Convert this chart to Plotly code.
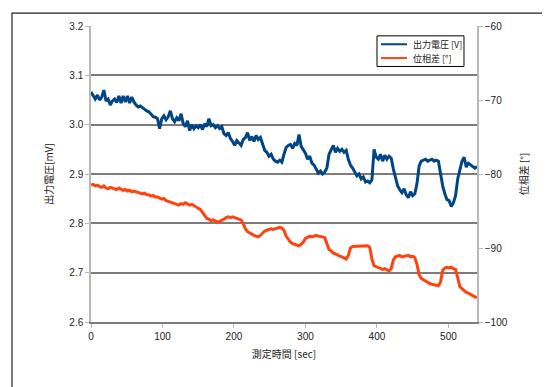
import plotly.graph_objects as go

# ---- data ----
time_sec = [
    0, 3, 6, 9, 12, 15, 18, 21, 24, 27,
    30, 33, 36, 39, 42, 45, 48, 51, 54, 57,
    60, 63, 66, 69, 72, 75, 78, 81, 84, 87,
    90, 93, 96, 99, 102, 105, 108, 111, 114, 117,
    120, 123, 126, 129, 132, 135, 138, 141, 144, 147,
    150, 153, 156, 159, 162, 165, 168, 171, 174, 177,
    180, 183, 186, 189, 192, 195, 198, 201, 204, 207,
    210, 213, 216, 219, 222, 225, 228, 231, 234, 237,
    240, 243, 246, 249, 252, 255, 258, 261, 264, 267,
    270, 273, 276, 279, 282, 285, 288, 291, 294, 297,
    300, 303, 306, 309, 312, 315, 318, 321, 324, 327,
    330, 333, 336, 339, 342, 345, 348, 351, 354, 357,
    360, 363, 366, 369, 372, 375, 378, 381, 384, 387,
    390, 393, 396, 399, 402, 405, 408, 411, 414, 417,
    420, 423, 426, 429, 432, 435, 438, 441, 444, 447,
    450, 453, 456, 459, 462, 465, 468, 471, 474, 477,
    480, 483, 486, 489, 492, 495, 498, 501, 504, 507,
    510, 513, 516, 519, 522, 525, 528, 531, 534, 537,
    540,
]

voltage_v = [
    3.066, 3.058, 3.052, 3.060, 3.050, 3.056, 3.070, 3.048, 3.052, 3.040,
    3.048, 3.052, 3.045, 3.058, 3.044, 3.058, 3.046, 3.058, 3.044, 3.056,
    3.046, 3.040, 3.036, 3.038, 3.034, 3.030, 3.028, 3.026, 3.020, 3.016,
    3.015, 3.012, 2.992, 3.012, 3.018, 3.010, 3.016, 3.028, 3.012, 3.006,
    3.014, 3.008, 3.022, 3.002, 2.996, 3.008, 2.988, 3.000, 2.992, 2.998,
    2.994, 3.000, 2.990, 3.002, 2.996, 3.012, 2.998, 3.000, 2.994, 2.998,
    2.992, 2.996, 2.982, 2.978, 2.984, 2.972, 2.966, 2.958, 2.968, 2.962,
    2.958, 2.970, 2.974, 2.984, 2.968, 2.976, 2.966, 2.978, 2.970, 2.974,
    2.962, 2.948, 2.944, 2.936, 2.940, 2.930, 2.926, 2.924, 2.928, 2.924,
    2.940, 2.954, 2.958, 2.960, 2.952, 2.962, 2.958, 2.980, 2.956, 2.950,
    2.942, 2.930, 2.936, 2.922, 2.918, 2.910, 2.902, 2.906, 2.900, 2.904,
    2.912, 2.940, 2.948, 2.958, 2.944, 2.952, 2.946, 2.950, 2.944, 2.948,
    2.930, 2.918, 2.912, 2.904, 2.896, 2.900, 2.890, 2.894, 2.884, 2.886,
    2.882, 2.888, 2.950, 2.934, 2.930, 2.940, 2.926, 2.938, 2.930, 2.936,
    2.932, 2.910, 2.890, 2.876, 2.868, 2.862, 2.870, 2.858, 2.852, 2.864,
    2.856, 2.860, 2.880, 2.916, 2.926, 2.928, 2.930, 2.926, 2.928, 2.930,
    2.926, 2.928, 2.926, 2.900, 2.876, 2.860, 2.848, 2.846, 2.834, 2.842,
    2.856, 2.890, 2.910, 2.926, 2.934, 2.914, 2.922, 2.918, 2.916, 2.912,
    2.915,
]

phase_deg = [
    -81.5, -81.4, -81.6, -81.5, -81.7, -81.8, -81.6, -81.9, -82.0, -81.8,
    -81.9, -82.0, -82.1, -81.9, -82.1, -82.2, -82.1, -82.3, -82.2, -82.4,
    -82.3, -82.4, -82.5, -82.5, -82.7, -82.6, -82.8, -82.8, -83.0, -82.9,
    -83.1, -83.1, -83.3, -83.4, -83.3, -83.6, -83.7, -83.8, -83.9, -84.0,
    -84.0, -84.2, -84.0, -84.1, -83.9, -84.0, -84.2, -84.1, -84.3, -84.4,
    -84.6, -84.8, -85.2, -85.6, -86.0, -86.1, -86.3, -86.2, -86.3, -86.5,
    -86.4, -86.3, -86.1, -85.9, -85.8, -85.9, -85.8, -85.9, -86.0, -86.0,
    -86.2, -86.7, -87.4, -87.8, -88.0, -88.2, -88.3, -88.4, -88.5, -88.3,
    -88.0, -87.7, -87.6, -87.5, -87.4, -87.5, -87.4, -87.3, -87.2, -87.3,
    -87.6, -88.4, -88.8, -89.2, -89.4, -89.5, -89.6, -89.7, -89.5, -89.2,
    -88.7, -88.5, -88.4, -88.5, -88.4, -88.3, -88.4, -88.4, -88.5, -88.6,
    -89.4, -90.2, -90.4, -90.7, -90.8, -91.0, -91.1, -91.2, -91.4, -91.5,
    -91.0, -90.0, -89.8, -89.8, -89.7, -89.8, -89.7, -89.8, -89.8, -89.7,
    -89.9, -91.5, -92.4, -92.5, -92.6, -92.7, -92.9, -92.8, -93.0, -93.1,
    -92.8, -91.6, -91.2, -91.1, -91.0, -91.2, -91.1, -91.1, -91.0, -91.2,
    -91.1, -91.3, -92.2, -93.6, -94.1, -94.3, -94.5, -94.7, -94.8, -94.9,
    -95.0, -95.0, -95.1, -94.6, -93.0, -92.7, -92.6, -92.7, -92.6, -92.8,
    -92.9, -94.0, -95.2, -95.5, -95.8, -96.0, -96.1, -96.3, -96.5, -96.6,
    -96.7,
]

x_ticks = [0, 100, 200, 300, 400, 500]
left_ticks = [2.6, 2.7, 2.8, 2.9, 3.0, 3.1, 3.2]
right_ticks = [-100, -90, -80, -70, -60]

name_voltage = "出力電圧 [V]"
name_phase = "位相差 [°]"
title_x = "測定時間 [sec]"
title_left = "出力電圧[mV]"
title_right = "位相差 [°]"

BLUE = "#004586"
ORANGE = "#ff420e"
GRID = "#7c7c7c"
LIGHT = "#b8b8b8"
FONT = "Liberation Sans, Noto Sans CJK JP, sans-serif"
CJK = "Noto Sans CJK JP, Liberation Sans, sans-serif"

fig = go.Figure()
fig.add_trace(go.Scatter(x=time_sec, y=voltage_v, name=name_voltage, mode="lines",
                         line=dict(color=BLUE, width=3), yaxis="y"))
fig.add_trace(go.Scatter(x=time_sec, y=phase_deg, name=name_phase, mode="lines",
                         line=dict(color=ORANGE, width=3), yaxis="y2"))

# manual legend (paper coordinates)
LEG_Y1 = 0.9383
LEG_Y2 = 0.8917
shapes = [
    dict(type="rect", xref="paper", yref="paper",
         x0=-0.2047, x1=1.25, y0=-0.3, y1=1.0433,
         line=dict(color="#222222", width=1.2), fillcolor="rgba(0,0,0,0)",
         layer="below"),
    dict(type="rect", xref="paper", yref="paper",
         x0=0.7409, x1=0.9663, y0=0.8633, y1=0.9667,
         line=dict(color="#000000", width=1), fillcolor="white", layer="above"),
    dict(type="line", xref="paper", yref="paper",
         x0=0.7513, x1=0.8187, y0=LEG_Y1, y1=LEG_Y1,
         line=dict(color=BLUE, width=2), layer="above"),
    dict(type="line", xref="paper", yref="paper",
         x0=0.7513, x1=0.8187, y0=LEG_Y2, y1=LEG_Y2,
         line=dict(color=ORANGE, width=2), layer="above"),
]
annotations = [
    dict(xref="paper", yref="paper", x=0.829, y=LEG_Y1, text=name_voltage,
         showarrow=False, xanchor="left", yanchor="middle",
         font=dict(family=CJK, size=9, color="#222222")),
    dict(xref="paper", yref="paper", x=0.829, y=LEG_Y2, text=name_phase,
         showarrow=False, xanchor="left", yanchor="middle",
         font=dict(family=CJK, size=9, color="#222222")),
]

fig.update_layout(
    width=550, height=387,
    # the page adds an 8 px body margin, so margins are shifted by 8 px
    margin=dict(l=83, r=81, t=14, b=73),
    paper_bgcolor="white", plot_bgcolor="white",
    font=dict(family=FONT, size=10, color="#222222"),
    showlegend=False,
    xaxis=dict(range=[0, 540], tickvals=x_ticks, showgrid=False, zeroline=False,
               showline=True, linecolor=GRID, linewidth=2,
               ticks="outside", ticklen=4, tickcolor=LIGHT, tickwidth=1,
               title=dict(text=title_x, font=dict(family=CJK, size=10), standoff=10)),
    yaxis=dict(range=[2.6, 3.2], tickvals=left_ticks, tickformat=".1f",
               showgrid=True, gridcolor=GRID, gridwidth=1.5, zeroline=False,
               showline=True, linecolor=LIGHT, linewidth=1.5,
               ticks="outside", ticklen=4, tickcolor=LIGHT, tickwidth=1,
               title=dict(text=title_left, font=dict(family=CJK, size=10), standoff=14)),
    yaxis2=dict(range=[-100, -60], tickvals=right_ticks, overlaying="y", side="right",
                showgrid=False, zeroline=False,
                showline=True, linecolor=LIGHT, linewidth=1.5,
                ticks="outside", ticklen=4, tickcolor=LIGHT, tickwidth=1,
                title=dict(text=title_right, font=dict(family=CJK, size=10), standoff=14)),
    shapes=shapes,
    annotations=annotations,
)

fig.write_html("out.html")
